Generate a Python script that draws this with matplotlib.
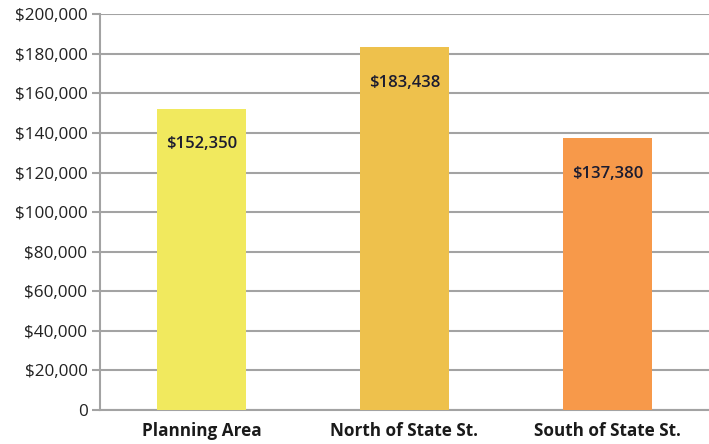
import matplotlib
matplotlib.use("Agg")
import matplotlib.pyplot as plt
import numpy as np

categories = ["Planning Area", "North of State St.", "South of State St."]
values = [152350, 183438, 137380]
colors = ["#F1E95E", "#EEC14C", "#F7994A"]
yticks = [0, 20000, 40000, 60000, 80000, 100000, 120000, 140000, 160000, 180000, 200000]
ytick_labels = ["0"] + [f"${v:,}" for v in yticks[1:]]

GRID = "#a3a3a3"
plt.rcParams["font.family"] = ["Open Sans", "DejaVu Sans"]

fig = plt.figure(figsize=(7.09, 4.44), dpi=100)
ax = fig.add_axes([0.141, 0.0766, 0.859, 0.8914])

x = np.arange(len(categories))
ax.bar(x, values, 0.44, color=colors, zorder=3)
ax.set_xlim(-0.5, len(categories) - 0.5)
ax.set_ylim(0, 200000)

ax.set_yticks(yticks)
ax.set_yticklabels(ytick_labels, fontsize=12.3, color="#222222")
ax.set_xticks(x)
ax.set_xticklabels(categories, fontsize=12.3, fontweight="bold", color="#1a1a1a")
ax.tick_params(axis="y", length=6, width=1.5, color=GRID, pad=3)
ax.tick_params(axis="x", length=0, pad=9)

ax.grid(axis="y", color=GRID, lw=1.5, zorder=0)
for s in ("top", "right"):
    ax.spines[s].set_visible(False)
for s in ("left", "bottom"):
    ax.spines[s].set_color(GRID)
    ax.spines[s].set_linewidth(1.5)

for xi, v in zip(x, values):
    ax.text(xi, v - 18000, f"${v:,}", ha="center", va="center",
            fontsize=12, fontweight="semibold", color="#1c1c30", zorder=4)

fig.savefig("out.png", dpi=100)
